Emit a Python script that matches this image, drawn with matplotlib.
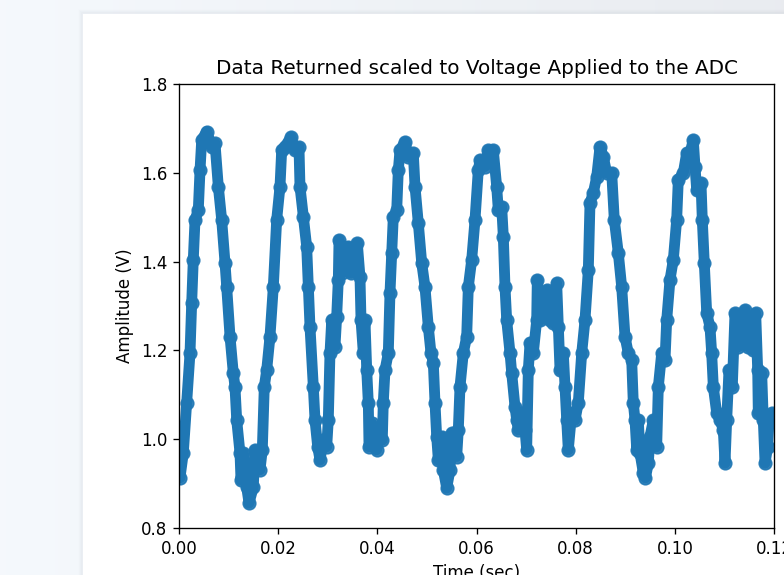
import numpy as np
import matplotlib.pyplot as plt
from matplotlib.patches import Rectangle

# ADC samples (time in ms, amplitude in V)
time_ms = [
    0.20, 0.87, 1.55, 2.22, 2.56, 2.88, 3.23, 3.89, 4.24, 4.58, 5.59, 6.59, 7.26, 7.93,
    8.61, 9.28, 9.62, 10.29, 10.95, 11.29, 11.64, 12.30, 12.50, 12.97, 13.65, 14.12,
    14.98, 15.33, 16.34, 16.80, 17.20, 17.69, 18.35, 19.02, 19.70, 20.37, 20.71, 21.38,
    22.59, 23.39, 24.20, 24.40, 25.07, 25.75, 26.08, 26.42, 27.09, 27.43, 27.97, 28.44,
    29.10, 29.79, 30.11, 30.45, 30.80, 31.46, 31.80, 32.13, 32.27, 32.81, 33.48, 34.02,
    34.69, 35.50, 35.96, 36.50, 36.71, 37.17, 37.51, 37.86, 38.18, 38.32, 38.86, 39.53,
    39.87, 40.54, 41.00, 41.20, 41.55, 42.21, 42.55, 42.90, 43.22, 43.91, 44.23, 44.57,
    45.58, 46.25, 47.25, 47.60, 48.26, 48.95, 49.61, 50.28, 50.82, 51.29, 51.63, 51.97,
    52.30, 52.98, 53.30, 53.99, 54.66, 55.00, 56.01, 56.33, 56.67, 57.34, 58.02, 58.35,
    59.03, 59.70, 60.36, 60.71, 61.71, 62.38, 63.39, 64.07, 64.40, 65.08, 65.41, 65.75,
    66.09, 66.76, 67.10, 67.76, 68.11, 68.43, 69.12, 69.78, 70.12, 70.45, 70.79, 71.46,
    72.14, 72.26, 72.81, 73.47, 74.16, 74.82, 75.49, 76.17, 76.50, 76.84, 77.51, 77.85,
    78.19, 78.51, 79.20, 79.87, 80.53, 81.22, 81.88, 82.55, 82.89, 83.56, 84.24, 84.91,
    85.57, 86.26, 87.27, 87.79, 88.60, 89.28, 89.95, 90.61, 91.30, 91.62, 91.97, 92.31,
    92.63, 92.97, 93.64, 94.08, 94.65, 94.99, 95.66, 96.34, 96.67, 97.35, 98.02, 98.36,
    99.02, 99.69, 100.37, 100.70, 101.71, 102.39, 103.06, 103.72, 104.07, 104.41, 105.28,
    105.54, 105.94, 106.43, 107.09, 107.43, 107.76, 108.44, 109.11, 109.77, 110.12,
    110.46, 110.92, 111.59, 112.13, 112.80, 113.34, 114.15, 114.82, 115.83, 116.31,
    116.71, 116.83, 117.52, 117.84, 118.19, 118.73, 118.99, 119.53, 119.95,
]
volts = [
    0.913, 0.969, 1.082, 1.194, 1.307, 1.404, 1.494, 1.516, 1.606, 1.674, 1.693, 1.659,
    1.667, 1.569, 1.494, 1.397, 1.343, 1.231, 1.149, 1.118, 1.043, 0.969, 0.908, 0.969,
    0.892, 0.856, 0.892, 0.976, 0.931, 0.976, 1.118, 1.156, 1.231, 1.343, 1.494, 1.569,
    1.651, 1.659, 1.681, 1.651, 1.658, 1.569, 1.501, 1.434, 1.343, 1.253, 1.118, 1.043,
    0.983, 0.953, 0.998, 0.983, 1.043, 1.194, 1.268, 1.208, 1.276, 1.359, 1.449, 1.374,
    1.404, 1.434, 1.374, 1.419, 1.442, 1.366, 1.268, 1.194, 1.268, 1.156, 1.082, 0.983,
    1.036, 1.014, 0.976, 1.028, 0.998, 1.082, 1.156, 1.194, 1.329, 1.419, 1.501, 1.516,
    1.606, 1.651, 1.670, 1.636, 1.645, 1.569, 1.487, 1.397, 1.343, 1.253, 1.194, 1.172,
    1.082, 1.006, 0.953, 1.006, 0.931, 0.890, 0.931, 1.014, 0.961, 1.021, 1.118, 1.194,
    1.231, 1.343, 1.404, 1.494, 1.606, 1.629, 1.614, 1.651, 1.651, 1.569, 1.516, 1.524,
    1.456, 1.343, 1.268, 1.194, 1.149, 1.073, 1.043, 1.021, 1.059, 1.021, 0.976, 1.156,
    1.217, 1.194, 1.268, 1.359, 1.268, 1.298, 1.336, 1.268, 1.262, 1.352, 1.253, 1.156,
    1.194, 1.118, 1.043, 0.976, 1.059, 1.043, 1.082, 1.194, 1.268, 1.381, 1.532, 1.555,
    1.591, 1.659, 1.636, 1.600, 1.600, 1.494, 1.419, 1.343, 1.231, 1.194, 1.178, 1.082,
    1.043, 0.976, 1.043, 0.969, 0.924, 0.913, 0.946, 1.006, 1.043, 0.983, 1.118, 1.194,
    1.178, 1.268, 1.359, 1.404, 1.494, 1.584, 1.600, 1.645, 1.645, 1.674, 1.614, 1.561,
    1.577, 1.494, 1.397, 1.284, 1.253, 1.194, 1.118, 1.059, 1.043, 1.021, 0.946, 1.043,
    1.156, 1.118, 1.284, 1.208, 1.268, 1.291, 1.208, 1.201, 1.284, 1.156, 1.059, 1.149,
    1.043, 0.946, 0.983, 1.043, 1.059, 1.050,
]

t = np.array(time_ms) / 1000.0
v = np.array(volts)

W, H = 784, 575
fig = plt.figure(figsize=(W / 120, H / 120), dpi=120)

# page background with a soft gradient and a white card holding the figure
bg = fig.add_axes([0, 0, 1, 1], zorder=-10)
bg.set_axis_off()
grad = np.linspace(0, 1, 256)[None, :, None]
c0 = np.array([0.961, 0.976, 0.992])
c1 = np.array([0.914, 0.925, 0.941])
bg.imshow(c0 + (c1 - c0) * grad, extent=[0, W, 0, H], aspect="auto")
for i, a in enumerate([0.05, 0.035, 0.02, 0.01]):
    bg.add_patch(Rectangle((83 - i - 1, -10), W, H - 14 + 10 + i + 1,
                           facecolor="none", edgecolor=(0.5, 0.55, 0.6, a), lw=1.5))
bg.add_patch(Rectangle((83, -10), W, H - 14 + 10, facecolor="white", edgecolor="none"))
bg.set_xlim(0, W)
bg.set_ylim(0, H)

ax = fig.add_axes([179 / W, 47 / H, 595 / W, 444 / H])
ax.plot(t, v, "-", color="#1f77b4", linewidth=6.5, solid_joinstyle="round",
        solid_capstyle="round")
ax.plot(t, v, "o", color="#1f77b4", markersize=7.5, alpha=0.9)
ax.set_xlim(0, 0.12)
ax.set_ylim(0.8, 1.8)
ax.set_xticks([0.0, 0.02, 0.04, 0.06, 0.08, 0.10, 0.12])
ax.set_title("Data Returned scaled to Voltage Applied to the ADC")
ax.set_xlabel("Time (sec)")
ax.set_ylabel("Amplitude (V)")

fig.savefig("out.png", dpi=120)
